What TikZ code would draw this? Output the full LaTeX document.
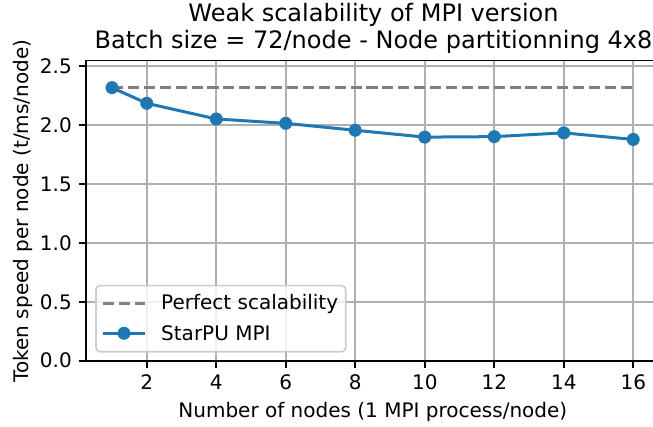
\documentclass[tikz,border=0pt]{standalone}
\usepackage{fontspec}
\setmainfont{DejaVu Sans}
\definecolor{mplblue}{HTML}{1F77B4}
\definecolor{gridgray}{HTML}{B0B0B0}
\definecolor{dashgray}{HTML}{808080}
\definecolor{legedge}{HTML}{CCCCCC}
\tikzset{
  gridline/.style={draw=gridgray, line width=1.6pt},
  spine/.style={draw=black, line width=1.6pt},
  perfect/.style={draw=dashgray, line width=3pt, dash pattern=on 11.1pt off 4.8pt},
  series/.style={draw=mplblue, line width=3pt, line join=round},
  marker/.style={circle, fill=mplblue, inner sep=0pt, minimum size=13pt},
  ticklab/.style={inner sep=0pt, font=\fontsize{20}{24}\selectfont},
  legbox/.style={draw=legedge, line width=1.6pt, fill=white, fill opacity=0.8, rounded corners=4pt},
  txt/.style={inner sep=0pt, font=\fontsize{20}{24}\selectfont},
  ttl/.style={inner sep=0pt, font=\fontsize{24}{28.8}\selectfont}
}
\begin{document}
\begin{tikzpicture}[x=1pt,y=1pt]
\useasboundingbox (0,0) rectangle (653,426);
\clip (0,0) rectangle (653,426);
\begin{scope}[shift={(77.25,65.3)}, x=34.75pt, y=117.8pt]
  % grid
  \foreach \xv in {2,4,...,16} \draw[gridline] (\xv,0) -- (\xv,2.55);
  \foreach \yv in {0,0.5,1,1.5,2,2.5} \draw[gridline] (0.25,\yv) -- (16.75,\yv);
  % perfect scalability
  \coordinate (d1) at (1,2.318);
  \coordinate (d2) at (16,2.318);
  \draw[perfect] (d1) -- (d2);
  % data
  \coordinate (p1) at (1,2.318);
  \coordinate (p2) at (2,2.185);
  \coordinate (p3) at (4,2.052);
  \coordinate (p4) at (6,2.015);
  \coordinate (p5) at (8,1.956);
  \coordinate (p6) at (10,1.898);
  \coordinate (p7) at (12,1.902);
  \coordinate (p8) at (14,1.934);
  \coordinate (p9) at (16,1.878);
  \draw[series] (p1) -- (p2) -- (p3) -- (p4) -- (p5) -- (p6) -- (p7) -- (p8) -- (p9);
  \foreach \i in {1,...,9} \node[marker] (m\i) at (p\i) {};
  % spines
  \draw[spine] (0.25,0) rectangle (16.75,2.55);
  % ticks
  \foreach \xv in {2,4,...,16} {
    \draw[spine] (\xv,0) -- ++(0pt,-7pt);
    \node[ticklab, anchor=north] (xt\xv) at ([yshift=-14pt]\xv,0) {\xv};
  }
  \foreach \yv/\lab in {0/0.0,0.5/0.5,1/1.0,1.5/1.5,2/2.0,2.5/2.5} {
    \draw[spine] (0.25,\yv) -- ++(-7pt,0pt);
    \node[ticklab, anchor=east] (yt\lab) at ([xshift=-14pt]0.25,\yv) {\lab};
  }
\end{scope}
% legend
\draw[legbox] (96,140.3) rectangle (345.7,74.3);
\coordinate (l1a) at (103,122.7);
\coordinate (l1b) at (145,122.7);
\draw[perfect] (l1a) -- (l1b);
\node[txt, anchor=base west] (l1t) at (161,116.7) {Perfect scalability};
\coordinate (l2a) at (103,92.7);
\coordinate (l2b) at (145,92.7);
\draw[series] (l2a) -- (l2b);
\node[marker] (l2m) at (124,92.7) {};
\node[txt, anchor=base west] (l2t) at (161,86) {StarPU MPI};
% labels
\node[txt, anchor=base] (xl) at (372.8,8.7) {Number of nodes (1 MPI process/node)};
\node[txt, anchor=base, rotate=90] (yl) at (28.3,215) {Token speed per node (t/ms/node)};
\node[ttl, anchor=base] (t1) at (373.5,404.3) {Weak scalability of MPI version};
\node[ttl, anchor=base] (t2) at (373.5,377.7) {Batch size = 72/node - Node partitionning 4x8};
\end{tikzpicture}
\end{document}
